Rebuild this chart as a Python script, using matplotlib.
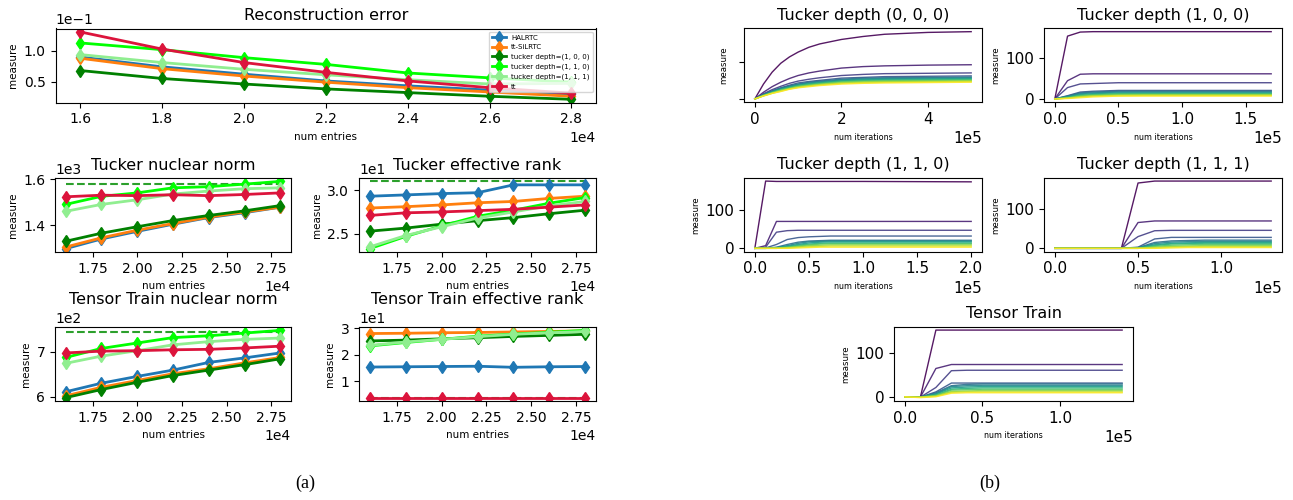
import matplotlib
matplotlib.use('Agg')
import matplotlib.pyplot as plt
import numpy as np
from matplotlib.ticker import MultipleLocator

# ---------------- panel (a) data ----------------
num_entries = [16000, 18000, 20000, 22000, 24000, 26000, 28000]
methods = ['HALRTC', 'tt-SiLRTC', 'tucker depth=(1, 0, 0)',
           'tucker depth=(1, 1, 0)', 'tucker depth=(1, 1, 1)', 'tt']
method_colors = ['tab:blue', 'tab:orange', 'green', 'lime', 'lightgreen', 'crimson']

recon_error = [
    [0.090, 0.074, 0.062, 0.051, 0.043, 0.036, 0.029],
    [0.088, 0.071, 0.059, 0.049, 0.040, 0.033, 0.026],
    [0.068, 0.055, 0.046, 0.038, 0.032, 0.026, 0.021],
    [0.113, 0.102, 0.089, 0.078, 0.064, 0.056, 0.049],
    [0.094, 0.081, 0.070, 0.061, 0.053, 0.046, 0.047],
    [0.131, 0.103, 0.081, 0.065, 0.051, 0.040, 0.031],
]
tucker_nuclear = [
    [1298, 1340, 1373, 1404, 1433, 1454, 1478],
    [1305, 1345, 1378, 1407, 1435, 1457, 1478],
    [1330, 1365, 1393, 1420, 1442, 1462, 1485],
    [1490, 1525, 1540, 1562, 1567, 1578, 1590],
    [1460, 1490, 1510, 1535, 1548, 1558, 1562],
    [1523, 1530, 1528, 1532, 1528, 1533, 1540],
]
tucker_nuclear_true = 1580
tucker_rank = [
    [29.3, 29.45, 29.6, 29.7, 30.6, 30.6, 30.6],
    [27.95, 28.1, 28.3, 28.55, 28.7, 29.05, 29.3],
    [25.3, 25.65, 26.1, 26.5, 26.85, 27.3, 27.7],
    [23.3, 24.7, 25.9, 27.0, 27.7, 28.5, 29.15],
    [23.5, 24.8, 25.8, 26.8, 27.5, 28.2, 28.7],
    [27.1, 27.4, 27.5, 27.65, 27.8, 28.05, 28.3],
]
tucker_rank_true = 31.0
tt_nuclear = [
    [611, 630, 645, 659, 676, 686, 697],
    [602, 621, 636, 651, 662, 675, 687],
    [598, 616, 632, 647, 659, 671, 684],
    [687, 707, 719, 731, 735, 741, 747],
    [674, 690, 702, 715, 722, 727, 730],
    [697, 701, 702, 704, 705, 708, 712],
]
tt_nuclear_true = 744
tt_rank = [
    [15.3, 15.4, 15.5, 15.6, 15.2, 15.4, 15.5],
    [28.0, 28.1, 28.3, 28.4, 28.6, 28.8, 29.0],
    [25.2, 25.5, 26.0, 26.4, 26.9, 27.3, 27.7],
    [23.3, 24.6, 25.8, 27.0, 27.8, 28.5, 29.2],
    [23.5, 24.8, 25.8, 26.8, 27.7, 28.3, 28.8],
    [3.7, 3.7, 3.7, 3.7, 3.7, 3.7, 3.7],
]
tt_rank_true = 3.7

# ---------------- panel (b) data: singular values over iterations ----------------
iters_000 = [0, 20000, 40000, 60000, 80000, 100000, 125000, 150000, 200000,
             250000, 300000, 400000, 500000]
sv_000 = [
    [0, 40, 72, 96, 113, 126, 139, 148, 160, 168, 174, 179, 181],
    [0, 18, 33, 45, 55, 63, 70, 75, 83, 87, 89, 91, 92],
    [0, 14, 25, 34, 42, 48, 53, 57, 63, 66, 68, 69, 70],
    [0, 12, 22, 30, 37, 43, 47, 50, 56, 58, 60, 61, 62],
    [0, 11, 21, 29, 35, 40, 45, 48, 53, 56, 57, 58, 59],
    [0, 11, 20, 28, 34, 39, 43, 46, 51, 54, 55, 56, 57],
    [0, 10, 19, 26, 32, 37, 41, 44, 49, 52, 53, 54, 55],
    [0, 10, 18, 25, 31, 36, 40, 43, 48, 50, 51, 52, 53],
    [0, 9, 17, 24, 29, 34, 38, 41, 46, 48, 49, 50, 51],
    [0, 9, 16, 23, 28, 33, 36, 39, 44, 46, 47, 48, 49],
    [0, 8, 15, 21, 27, 31, 35, 38, 42, 44, 45, 46, 47],
    [0, 8, 15, 20, 26, 30, 33, 36, 40, 42, 43, 44, 45],
]
iters_100 = [0, 10000, 20000, 30000, 40000, 50000, 70000, 100000, 170000]
sv_100 = [
    [0, 155, 165, 166, 166, 166, 166, 166, 166],
    [0, 45, 61, 62, 62, 62, 62, 62, 62],
    [0, 28, 37, 38, 39, 40, 40, 40, 40],
    [0, 8, 17, 19, 20, 21, 21, 21, 21],
    [0, 7, 15, 17, 18, 19, 19, 19, 19],
    [0, 6, 13, 15, 16, 17, 17, 17, 17],
    [0, 5, 11, 13, 14, 15, 15, 15, 15],
    [0, 4, 9, 11, 12, 13, 13, 13, 13],
    [0, 3, 8, 10, 11, 12, 12, 12, 12],
    [0, 2, 6, 8, 9, 10, 10, 10, 10],
    [0, 2, 5, 7, 8, 8, 9, 9, 9],
    [0, 1, 3, 5, 6, 7, 7, 7, 7],
]
iters_110 = [0, 10000, 20000, 30000, 40000, 50000, 60000, 70000, 100000, 200000]
sv_110 = [
    [0, 175, 174, 174, 174, 174, 174, 174, 174, 173],
    [0, 7, 70, 70, 70, 70, 70, 70, 70, 70],
    [0, 3, 42, 46, 47, 47, 47, 47, 47, 47],
    [0, 1, 10, 23, 28, 30, 31, 32, 32, 32],
    [0, 0, 3, 10, 16, 19, 20, 21, 21, 21],
    [0, 0, 2, 7, 13, 17, 18, 19, 19, 19],
    [0, 0, 1, 5, 10, 14, 16, 17, 17, 17],
    [0, 0, 1, 4, 8, 11, 13, 14, 14, 14],
    [0, 0, 0, 3, 6, 9, 11, 12, 12, 12],
    [0, 0, 0, 2, 4, 7, 8, 9, 9, 9],
    [0, 0, 0, 1, 3, 4, 5, 6, 6, 6],
    [0, 0, 0, 0, 1, 2, 3, 3, 3, 3],
]
iters_111 = [0, 40000, 50000, 60000, 70000, 80000, 90000, 130000]
sv_111 = [
    [0, 0, 167, 172, 172, 172, 172, 172],
    [0, 0, 66, 70, 70, 70, 70, 70],
    [0, 0, 30, 45, 46, 46, 46, 46],
    [0, 0, 3, 24, 28, 28, 28, 28],
    [0, 0, 2, 15, 19, 20, 21, 21],
    [0, 0, 1, 12, 16, 17, 18, 18],
    [0, 0, 1, 9, 13, 14, 15, 15],
    [0, 0, 0, 7, 11, 12, 13, 13],
    [0, 0, 0, 5, 8, 9, 10, 10],
    [0, 0, 0, 3, 5, 6, 7, 7],
    [0, 0, 0, 1, 3, 4, 4, 4],
    [0, 0, 0, 0, 1, 2, 2, 2],
]
iters_tt = [0, 10000, 20000, 30000, 40000, 50000, 140000]
sv_tt = [
    [0, 0, 152, 152, 152, 152, 152],
    [0, 0, 65, 74, 74, 74, 74],
    [0, 0, 22, 60, 61, 61, 61],
    [0, 0, 12, 32, 32, 32, 32],
    [0, 0, 10, 26, 29, 30, 30],
    [0, 0, 8, 24, 26, 27, 27],
    [0, 0, 7, 21, 23, 24, 24],
    [0, 0, 5, 18, 20, 21, 21],
    [0, 0, 4, 16, 17, 18, 18],
    [0, 0, 3, 13, 14, 15, 15],
    [0, 0, 2, 11, 12, 12, 12],
    [1, -1, 1, 9, 10, 10, 10],
]

W, H = 1293, 500
fig = plt.figure(figsize=(W / 100, H / 100), dpi=100)


def box(l, t, r, b):
    return [l / W, 1 - b / H, (r - l) / W, (b - t) / H]


# ---------------- panel (a) ----------------
plt.rcParams['xtick.labelsize'] = 10
plt.rcParams['ytick.labelsize'] = 10


def entries_axes(rect, title, series, true_val=None, ystep=None, xstep=2500, legend=False):
    ax = fig.add_axes(box(*rect))
    if true_val is not None:
        ax.plot([num_entries[0], num_entries[-1]], [true_val, true_val], '--',
                color='tab:green', lw=1.5)
    for name, vals, c in zip(methods, series, method_colors):
        ax.plot(num_entries, vals, marker='d', color=c, lw=2, ms=6, label=name)
    ax.set_title(title, fontsize=11.5)
    ax.set_xlabel('num entries', fontsize=7.5)
    ax.set_ylabel('measure', fontsize=7.5)
    ax.xaxis.set_major_locator(MultipleLocator(xstep))
    ax.yaxis.set_major_locator(MultipleLocator(ystep))
    ax.ticklabel_format(style='sci', scilimits=(0, 0))
    if legend:
        ax.legend(loc='upper right', fontsize=5)
    return ax


entries_axes((55.5, 28.5, 596, 102.7), 'Reconstruction error', recon_error,
             ystep=0.05, xstep=2000, legend=True)
entries_axes((55, 178, 291, 252), 'Tucker nuclear norm', tucker_nuclear,
             tucker_nuclear_true, ystep=200)
entries_axes((359, 178, 596, 252), 'Tucker effective rank', tucker_rank,
             tucker_rank_true, ystep=5)
entries_axes((55, 327, 291, 401), 'Tensor Train nuclear norm', tt_nuclear,
             tt_nuclear_true, ystep=100)
entries_axes((359, 327, 596, 401), 'Tensor Train effective rank', tt_rank,
             tt_rank_true, ystep=10)

# ---------------- panel (b) ----------------
plt.rcParams['xtick.labelsize'] = 11
plt.rcParams['ytick.labelsize'] = 11


def iter_axes(rect, title, iters, svals, xstep, hide_ylabels=False):
    ax = fig.add_axes(box(*rect))
    cols = plt.cm.viridis(np.linspace(0, 1, len(svals)))
    for vals, c in zip(svals, cols):
        ax.plot(iters, vals, color=c, lw=1, alpha=0.9)
    ax.set_title(title, fontsize=11.5)
    ax.set_xlabel('num iterations', fontsize=5.8)
    ax.set_ylabel('measure', fontsize=6.2)
    ax.xaxis.set_major_locator(MultipleLocator(xstep))
    ax.yaxis.set_major_locator(MultipleLocator(100))
    ax.ticklabel_format(axis='x', style='sci', scilimits=(0, 0))
    if hide_ylabels:
        ax.set_yticklabels([])
    return ax


iter_axes((744, 28.3, 982, 102.3), 'Tucker depth (0, 0, 0)', iters_000, sv_000, 200000,
          hide_ylabels=True)
iter_axes((1044, 28.3, 1282, 102.3), 'Tucker depth (1, 0, 0)', iters_100, sv_100, 50000)
iter_axes((744, 177.7, 982, 251.7), 'Tucker depth (1, 1, 0)', iters_110, sv_110, 50000)
iter_axes((1044, 177.7, 1282, 251.7), 'Tucker depth (1, 1, 1)', iters_111, sv_111, 50000)
iter_axes((894, 326.7, 1133, 401), 'Tensor Train', iters_tt, sv_tt, 50000)

fig.text(305 / W, 1 - 483 / H, '(a)', ha='center', va='center',
         family='Liberation Serif', fontsize=13)
fig.text(990 / W, 1 - 483 / H, '(b)', ha='center', va='center',
         family='Liberation Serif', fontsize=13)

fig.savefig('out.png', dpi=100)
